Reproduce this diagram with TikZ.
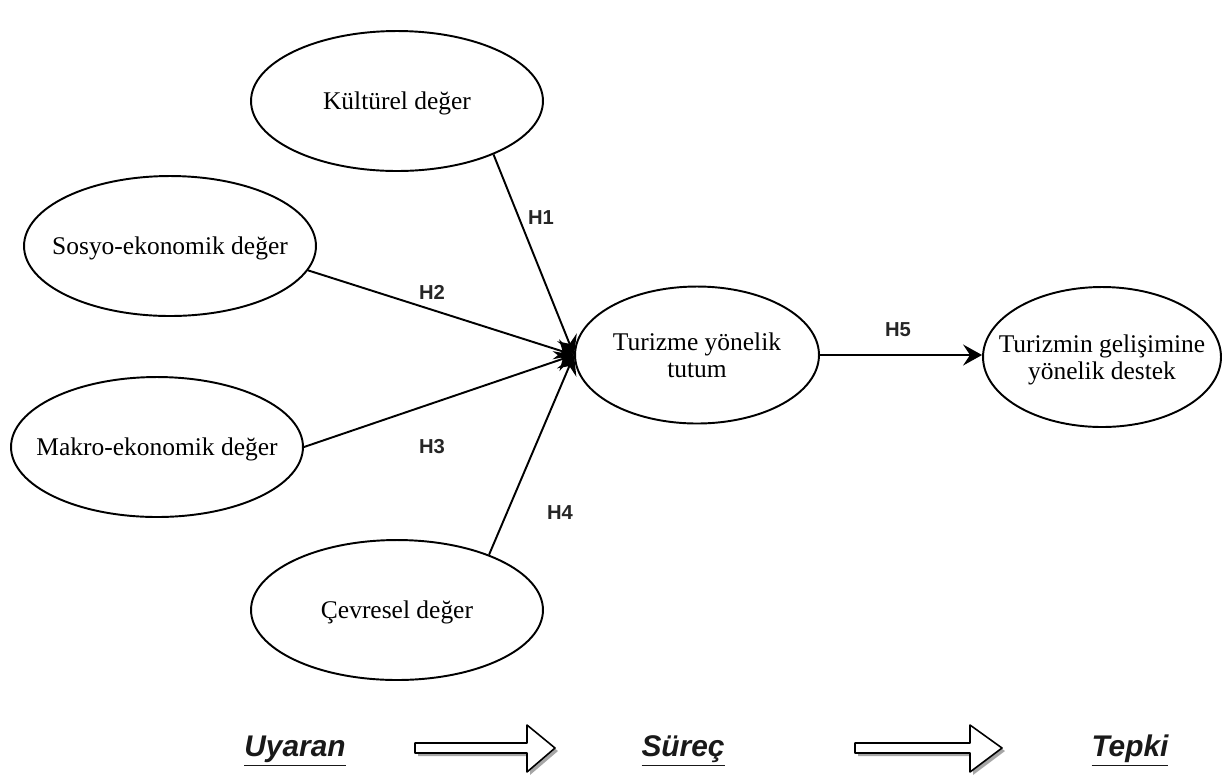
\documentclass[tikz,border=0pt]{standalone}
\usepackage{fontspec}
\setmainfont{Liberation Serif}
\setsansfont{Liberation Sans}
\usepackage{tikz}
\usetikzlibrary{arrows.meta,shapes.geometric}

% text of an oval, kept out of the node size
\newcommand{\ovaltext}[1]{\makebox[0pt]{\raisebox{-1.8pt}[\height][\depth]{\begin{tabular}{@{}c@{}}#1\end{tabular}}}}

\begin{document}
\begin{tikzpicture}[x=0.02cm,y=-0.02cm,
    oval/.style={ellipse,draw,line width=1.1pt,minimum width=5.84cm,minimum height=2.8cm,
      inner sep=0pt,font=\fontsize{14.5}{15.5}\selectfont},
    hyp/.style={-{Stealth[length=3.8mm,width=4.2mm,inset=1.4mm]},line width=1.1pt},
    hlbl/.style={font=\sffamily\bfseries\fontsize{11.5}{13}\selectfont,text=black!85},
    stage/.style={font=\sffamily\bfseries\itshape\fontsize{17}{19}\selectfont,text=black!90}]
  \useasboundingbox (0,0) rectangle (1223,779);
  \node[oval] (kultur) at (397,101) {\ovaltext{Kültürel değer}};
  \node[oval] (sosyo) at (170,246) {\ovaltext{Sosyo-ekonomik değer}};
  \node[oval] (makro) at (157,447) {\ovaltext{Makro-ekonomik değer}};
  \node[oval] (cevre) at (397,610) {\ovaltext{Çevresel değer}};
  \node[oval,minimum width=4.88cm,minimum height=2.74cm] (tutum) at (697,355) {\ovaltext{Turizme yönelik\\tutum}};
  \node[oval,minimum width=4.76cm] (destek) at (1102,357) {\ovaltext{Turizmin gelişimine\\yönelik destek}};
  \draw[hyp] (kultur.-29) -- (tutum.west);
  \draw[hyp] (sosyo.-10) -- (tutum.west);
  \draw[hyp] (makro.east) -- (tutum.west);
  \draw[hyp] (cevre.31) -- (tutum.west);
  \draw[hyp] (tutum.east) -- (tutum.east -| destek.west);
  \node[hlbl] (h1) at (541,218) {H1};
  \node[hlbl] (h2) at (432,292) {H2};
  \node[hlbl] (h3) at (432,447) {H3};
  \node[hlbl] (h4) at (560,513) {H4};
  \node[hlbl] (h5) at (898,330) {H5};
  % stages
  \node[stage] (uyaran) at (295,751) {\underline{Uyaran}};
  \node[stage] (surec) at (683,751) {\underline{Süreç}};
  \node[stage] (tepki) at (1130,751) {\underline{Tepki}};
  \foreach \xa/\xb/\xc in {415/527/555, 855/970/1002} {
    \fill[black!35] (\xa+3,746) -- (\xb+3,746) -- (\xb+3,728) -- (\xc+3,751)
      -- (\xb+3,775) -- (\xb+3,756) -- (\xa+3,756) -- cycle;
    \draw[line width=0.9pt,fill=white,line join=round] (\xa,743) -- (\xb,743) -- (\xb,725) -- (\xc,748)
      -- (\xb,772) -- (\xb,753) -- (\xa,753) -- cycle;
  }
\end{tikzpicture}
\end{document}
